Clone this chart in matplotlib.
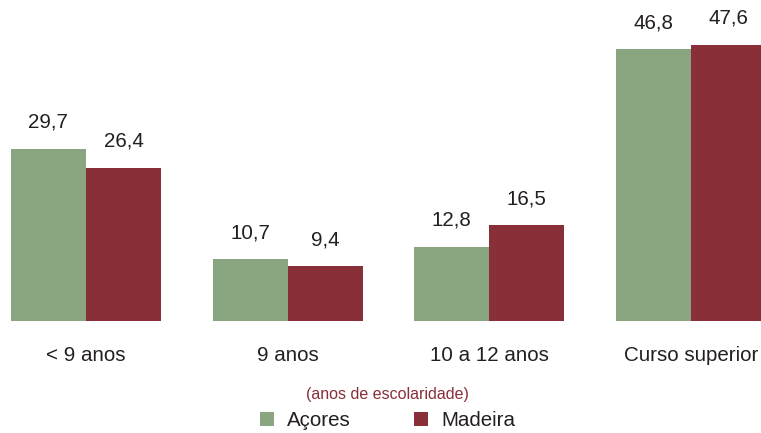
import matplotlib
matplotlib.use("Agg")
import matplotlib.pyplot as plt
import numpy as np
from matplotlib.patches import Patch

categories = ["< 9 anos", "9 anos", "10 a 12 anos", "Curso superior"]
acores = [29.7, 10.7, 12.8, 46.8]
madeira = [26.4, 9.4, 16.5, 47.6]
series_names = ["Açores", "Madeira"]
legend_title = "(anos de escolaridade)"

green = "#8AA681"
red = "#882F38"
text_color = "#231F20"

plt.rcParams["font.family"] = ["Liberation Sans", "DejaVu Sans"]

fig = plt.figure(figsize=(7.61, 4.33), dpi=100)
ax = fig.add_axes([0, 0.2587, 1, 0.7413])

x = np.arange(len(categories))
w = 0.372
b1 = ax.bar(x - w / 2, acores, w, color=green)
b2 = ax.bar(x + w / 2, madeira, w, color=red)

for bars, vals in ((b1, acores), (b2, madeira)):
    for r, v in zip(bars, vals):
        ax.annotate(f"{v:.1f}".replace(".", ","),
                    (r.get_x() + r.get_width() / 2, v),
                    xytext=(0, 15), textcoords="offset points",
                    ha="center", va="baseline", fontsize=14.8, color=text_color)

for xi, c in zip(x, categories):
    ax.annotate(c, (xi, 0), xytext=(0, -25), textcoords="offset points",
                ha="center", va="center", fontsize=14.8, color=text_color)

ax.set_xlim(-0.426, 3.347)
ax.set_ylim(0, 55.3)
ax.axis("off")

handles = [Patch(facecolor=green), Patch(facecolor=red)]
leg = fig.legend(handles, series_names, loc="center", bbox_to_anchor=(387.5 / 761, 1 - 408.5 / 433),
                 ncol=2, frameon=False, fontsize=14.8, title=legend_title,
                 title_fontsize=11.5, handlelength=0.7, handleheight=0.7,
                 handletextpad=0.65, columnspacing=3.05, borderpad=0, labelspacing=0.45)
leg.get_title().set_color(red)
for t in leg.get_texts():
    t.set_color(text_color)

fig.savefig("out.png", dpi=100)
